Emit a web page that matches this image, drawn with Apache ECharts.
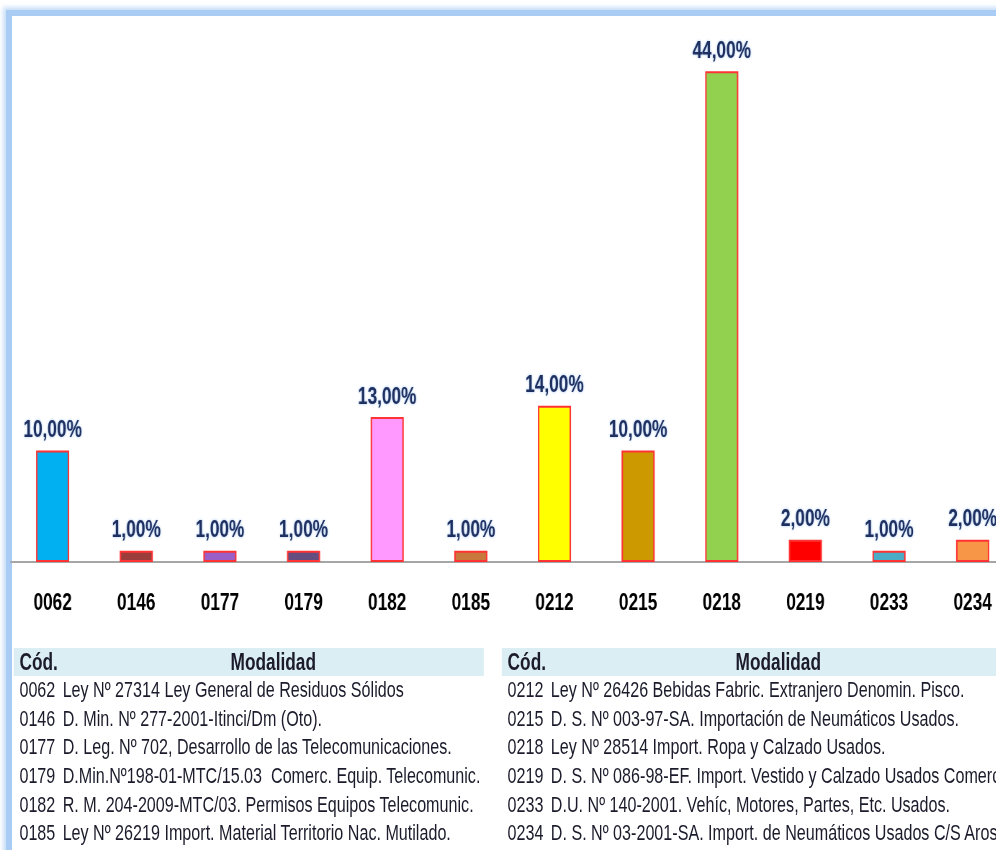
<!DOCTYPE html>
<html>
<head>
<meta charset="utf-8">
<script src="https://cdn.jsdelivr.net/npm/echarts@6/dist/echarts.min.js"></script>
<style>
html, body { margin: 0; padding: 0; width: 996px; height: 850px; overflow: hidden; background: #fff; }
#frame { position: absolute; left: 6px; top: 10px; width: 1100px; height: 900px;
    border-left: 6px solid #a9ccf5; border-top: 6px solid #a9ccf5;
    box-shadow: -3px -3px 4px rgba(169,204,245,0.6); }
/* the picture is squeezed sideways: draw wide, then scale down in x */
#wrap { position: absolute; left: 0; top: 0; width: 1431px; height: 850px;
    transform: scaleX(0.72); transform-origin: 0 0; }
#chart { position: absolute; left: 0; top: 0; width: 1431px; height: 640px; }
.tbl { position: absolute; top: 648px; font-family: 'Liberation Sans', Arial, sans-serif; color: #1b1b2b; }
.tbl .hd { height: 28px; background: #dbeef4; display: flex; align-items: center; font-weight: bold; font-size: 24px; }
.tbl .row { height: 28.6px; display: flex; align-items: center; font-size: 22.4px; white-space: nowrap; }
.tbl .c1 { width: 60px; padding-left: 8px; flex: none; }
.tbl .c2 { flex: 1; }
.tbl .hd .c2 { text-align: center; }
</style>
</head>
<body>
<div id="frame"></div>
<div id="wrap">
  <div id="chart"></div>
  <div class="tbl" id="tblLeft" style="left:19px;width:653px;"></div>
  <div class="tbl" id="tblRight" style="left:697px;width:700px;"></div>
</div>
<script>
var codes = ['0062', '0146', '0177', '0179', '0182', '0185', '0212', '0215', '0218', '0219', '0233', '0234'];
var values = [10, 1, 1, 1, 13, 1, 14, 10, 44, 2, 1, 2];
var barColors = ['#00b0f0', '#9b3d3b', '#9b5fc8', '#644e80', '#ff99ff', '#c8783a',
                 '#ffff00', '#cc9900', '#92d050', '#ff0000', '#4bacc6', '#f79646'];
var leftRows = [
    ['0062', 'Ley Nº 27314 Ley General de Residuos Sólidos'],
    ['0146', 'D. Min. Nº 277-2001-Itinci/Dm (Oto).'],
    ['0177', 'D. Leg. Nº 702, Desarrollo de las Telecomunicaciones.'],
    ['0179', 'D.Min.Nº198-01-MTC/15.03&nbsp; Comerc. Equip. Telecomunic.'],
    ['0182', 'R. M. 204-2009-MTC/03. Permisos Equipos Telecomunic.'],
    ['0185', 'Ley Nº 26219 Import. Material Territorio Nac. Mutilado.']
];
var rightRows = [
    ['0212', 'Ley Nº 26426 Bebidas Fabric. Extranjero Denomin. Pisco.'],
    ['0215', 'D. S. Nº 003-97-SA. Importación de Neumáticos Usados.'],
    ['0218', 'Ley Nº 28514 Import. Ropa y Calzado Usados.'],
    ['0219', 'D. S. Nº 086-98-EF. Import. Vestido y Calzado Usados Comerc.'],
    ['0233', 'D.U. Nº 140-2001. Vehíc, Motores, Partes, Etc. Usados.'],
    ['0234', 'D. S. Nº 03-2001-SA. Import. de Neumáticos Usados C/S Aros.']
];

function fillTable(id, rows) {
    var html = '<div class="hd"><div class="c1">Cód.</div><div class="c2">Modalidad</div></div>';
    for (var i = 0; i < rows.length; i++) {
        html += '<div class="row"><div class="c1">' + rows[i][0] + '</div><div class="c2">' + rows[i][1] + '</div></div>';
    }
    document.getElementById(id).innerHTML = html;
}
fillTable('tblLeft', leftRows);
fillTable('tblRight', rightRows);

var family = "'Liberation Sans', Arial, sans-serif";
var chart = echarts.init(document.getElementById('chart'));
chart.setOption({
    animation: false,
    grid: { left: 15, right: 22, top: 60, bottom: 78 },
    xAxis: {
        type: 'category',
        data: codes,
        axisLine: { lineStyle: { color: '#a6a6a6', width: 2 } },
        axisTick: { show: false },
        axisLabel: { margin: 29, fontFamily: family, fontWeight: 'bold', fontSize: 24, color: '#000' }
    },
    yAxis: { type: 'value', min: 0, max: 45, show: false, splitLine: { show: false } },
    series: [{
        type: 'bar',
        barWidth: 46,
        data: values.map(function (v, i) {
            return { value: v, itemStyle: { color: barColors[i] } };
        }),
        itemStyle: { borderColor: '#ff3333', borderWidth: 2 },
        label: {
            show: true,
            position: 'top',
            distance: 8,
            fontFamily: family,
            fontWeight: 'bold',
            fontSize: 24,
            color: '#1f3060',
            textShadowColor: 'rgba(150,190,240,0.9)',
            textShadowBlur: 3,
            formatter: function (p) { return p.value.toFixed(2).replace('.', ',') + '%'; }
        }
    }]
});
</script>
</body>
</html>
